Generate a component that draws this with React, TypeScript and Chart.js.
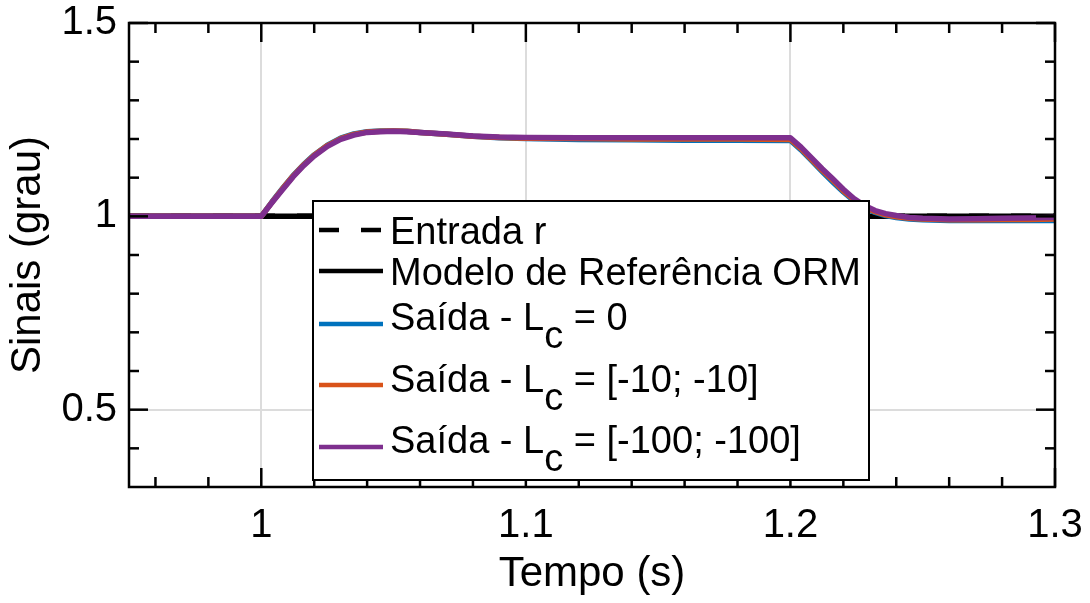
import React, { useEffect, useRef } from "react";
import { Chart, registerables } from "chart.js";

Chart.register(...registerables);

const FONT = "'Liberation Sans', Arial, Helvetica, sans-serif";

// ---- data ----
const timeOut = [
  0.95, 1.0, 1.004, 1.008, 1.012, 1.016, 1.02, 1.025, 1.03, 1.035, 1.04, 1.045, 1.05, 1.055, 1.06,
  1.07, 1.08, 1.09, 1.1, 1.12, 1.14, 1.16, 1.18, 1.2, 1.204, 1.208, 1.212, 1.216, 1.22, 1.224,
  1.228, 1.232, 1.236, 1.24, 1.245, 1.25, 1.26, 1.27, 1.28, 1.29, 1.3,
];
const outLc0 = [
  1.0, 1.0, 1.037, 1.072, 1.105, 1.134, 1.159, 1.184, 1.202, 1.213, 1.219, 1.221, 1.221, 1.22, 1.217,
  1.212, 1.207, 1.203, 1.201, 1.199, 1.198, 1.197, 1.197, 1.196, 1.172, 1.144, 1.116, 1.089, 1.063, 1.04,
  1.022, 1.01, 1.002, 0.997, 0.993, 0.991, 0.989, 0.989, 0.989, 0.989, 0.989,
];
const outLc10 = [
  1.0, 1.0, 1.036, 1.071, 1.104, 1.133, 1.158, 1.183, 1.201, 1.212, 1.218, 1.22, 1.221, 1.22, 1.217,
  1.212, 1.207, 1.204, 1.202, 1.201, 1.2, 1.2, 1.2, 1.199, 1.175, 1.147, 1.119, 1.093, 1.066, 1.043,
  1.025, 1.012, 1.004, 0.999, 0.995, 0.993, 0.991, 0.991, 0.992, 0.992, 0.993,
];
const outLc100 = [
  1.0, 1.0, 1.035, 1.069, 1.102, 1.131, 1.156, 1.181, 1.199, 1.21, 1.217, 1.219, 1.22, 1.219, 1.217,
  1.213, 1.208, 1.205, 1.204, 1.203, 1.203, 1.203, 1.203, 1.203, 1.179, 1.151, 1.123, 1.097, 1.07, 1.046,
  1.028, 1.015, 1.007, 1.002, 0.997, 0.995, 0.993, 0.994, 0.995, 0.996, 0.997,
];
const timeRef = [0.95, 1.3];
const entradaR = [1, 1];
const modeloORM = [1, 1];

const xMajorTicks = [1, 1.1, 1.2, 1.3];
const xTickLabels = ["1", "1.1", "1.2", "1.3"];
const xMinorTicks = [0.96, 0.98, 1.02, 1.04, 1.06, 1.08, 1.12, 1.14, 1.16, 1.18, 1.22, 1.24, 1.26, 1.28];
const yMajorTicks = [0.5, 1, 1.5];
const yTickLabels = ["0.5", "1", "1.5"];
const yMinorTicks = [0.4, 0.6, 0.7, 0.8, 0.9, 1.1, 1.2, 1.3, 1.4];

const xTitle = "Tempo (s)";
const yTitle = "Sinais (grau)";

const legendEntries = [
  { pre: "Entrada r", sub: "", post: "" },
  { pre: "Modelo de Referência ORM", sub: "", post: "" },
  { pre: "Saída - L", sub: "c", post: " = 0" },
  { pre: "Saída - L", sub: "c", post: " = [-10; -10]" },
  { pre: "Saída - L", sub: "c", post: " = [-100; -100]" },
];

const BLUE = "#0072BD";
const RED = "#D95319";
const PURPLE = "#7E2F8E";

const pts = (xs: number[], ys: number[]) => xs.map((x, i) => ({ x, y: ys[i] }));

const frameTicksPlugin = {
  id: "frameTicks",
  afterDatasetsDraw(chart: any) {
    const { ctx, chartArea: a, scales } = chart;
    const xs = scales.x;
    const ys = scales.y;
    ctx.save();
    ctx.strokeStyle = "#000";
    ctx.lineWidth = 2.5;
    ctx.lineCap = "butt";
    const seg = (x1: number, y1: number, x2: number, y2: number) => {
      ctx.beginPath();
      ctx.moveTo(x1, y1);
      ctx.lineTo(x2, y2);
      ctx.stroke();
    };
    const xt = (v: number, len: number) => {
      const p = xs.getPixelForValue(v);
      seg(p, a.bottom, p, a.bottom - len);
      seg(p, a.top, p, a.top + len);
    };
    const yt = (v: number, len: number) => {
      const p = ys.getPixelForValue(v);
      seg(a.left, p, a.left + len, p);
      seg(a.right, p, a.right - len, p);
    };
    xMajorTicks.forEach((v) => xt(v, 19));
    xMinorTicks.forEach((v) => xt(v, 10));
    yMajorTicks.forEach((v) => yt(v, 19));
    yMinorTicks.forEach((v) => yt(v, 10));
    ctx.strokeRect(a.left, a.top, a.right - a.left, a.bottom - a.top);
    ctx.restore();
  },
};

const legendPlugin = {
  id: "customLegend",
  afterDraw(chart: any) {
    const { ctx } = chart;
    const box = { x: 313, y: 201, w: 556, h: 279 };
    const lineX1 = 319;
    const lineX2 = 383;
    const textX = 390;
    const lineYs = [230, 271, 324, 385, 447];
    const baseYs = [244, 285, 330, 392, 453];
    const styles = [
      { color: "#000", dash: [20, 22] },
      { color: "#000", dash: [] as number[] },
      { color: BLUE, dash: [] as number[] },
      { color: RED, dash: [] as number[] },
      { color: PURPLE, dash: [] as number[] },
    ];
    ctx.save();
    ctx.fillStyle = "#fff";
    ctx.fillRect(box.x, box.y, box.w, box.h);
    ctx.strokeStyle = "#000";
    ctx.lineWidth = 2;
    ctx.strokeRect(box.x, box.y, box.w, box.h);
    ctx.font = `38px ${FONT}`;
    ctx.textBaseline = "alphabetic";
    ctx.textAlign = "left";
    legendEntries.forEach((e, i) => {
      const st = styles[i];
      ctx.beginPath();
      ctx.setLineDash(st.dash);
      ctx.strokeStyle = st.color;
      ctx.lineWidth = 4.5;
      ctx.lineCap = "butt";
      ctx.moveTo(lineX1, lineYs[i]);
      ctx.lineTo(lineX2, lineYs[i]);
      ctx.stroke();
      ctx.setLineDash([]);
      ctx.fillStyle = "#000";
      let x = textX;
      ctx.fillText(e.pre, x, baseYs[i]);
      x += ctx.measureText(e.pre).width;
      if (e.sub) {
        ctx.fillText(e.sub, x, baseYs[i] + 18);
        x += ctx.measureText(e.sub).width;
      }
      if (e.post) ctx.fillText(e.post, x, baseYs[i]);
    });
    ctx.restore();
  },
};

export default function App() {
  const ref = useRef<HTMLCanvasElement | null>(null);
  useEffect(() => {
    document.body.style.margin = "0";
    if (!ref.current) return;
    const lw = 5.5;
    const chart = new Chart(ref.current, {
      type: "line",
      data: {
        datasets: [
          { label: "Entrada r", data: pts(timeRef, entradaR), borderColor: "#000", borderDash: [20, 22], borderWidth: lw, pointRadius: 0, order: 4 },
          { label: "Modelo de Referência ORM", data: pts(timeRef, modeloORM), borderColor: "#000", borderWidth: lw, pointRadius: 0, order: 3 },
          { label: "Saída - Lc = 0", data: pts(timeOut, outLc0), borderColor: BLUE, borderWidth: lw, pointRadius: 0, order: 2 },
          { label: "Saída - Lc = [-10; -10]", data: pts(timeOut, outLc10), borderColor: RED, borderWidth: lw, pointRadius: 0, order: 1 },
          { label: "Saída - Lc = [-100; -100]", data: pts(timeOut, outLc100), borderColor: PURPLE, borderWidth: lw, pointRadius: 0, order: 0 },
        ],
      },
      options: {
        animation: false,
        responsive: false,
        devicePixelRatio: 1,
        layout: { padding: { left: 0, right: 35, top: 23, bottom: 0 } },
        plugins: { legend: { display: false }, tooltip: { enabled: false } },
        elements: { line: { tension: 0, borderCapStyle: "butt", borderJoinStyle: "round" } },
        scales: {
          x: {
            type: "linear",
            min: 0.95,
            max: 1.3,
            afterBuildTicks: (s: any) => {
              s.ticks = xMajorTicks.map((v) => ({ value: v }));
            },
            afterFit: (s: any) => {
              s.height = 116;
              s.paddingLeft = 0;
              s.paddingRight = 0;
            },
            grid: { color: "#dcdcdc", lineWidth: 2, drawTicks: false },
            border: { display: false },
            ticks: {
              autoSkip: false,
              maxRotation: 0,
              padding: 19,
              color: "#000",
              font: { family: FONT, size: 40, lineHeight: 1 },
              callback: (v: any) => xTickLabels[xMajorTicks.indexOf(Number(v))] ?? "",
            },
            title: {
              display: true,
              text: xTitle,
              color: "#000",
              font: { family: FONT, size: 42, lineHeight: 1.2 },
              padding: { top: 0, bottom: 3 },
            },
          },
          y: {
            type: "linear",
            min: 0.3,
            max: 1.5,
            afterBuildTicks: (s: any) => {
              s.ticks = yMajorTicks.map((v) => ({ value: v }));
            },
            afterFit: (s: any) => {
              s.width = 129;
              s.paddingTop = 0;
              s.paddingBottom = 0;
            },
            grid: { color: "#dcdcdc", lineWidth: 2, drawTicks: false },
            border: { display: false },
            ticks: {
              autoSkip: false,
              padding: 12,
              color: "#000",
              font: { family: FONT, size: 40, lineHeight: 1 },
              callback: (v: any) => yTickLabels[yMajorTicks.indexOf(Number(v))] ?? "",
            },
            title: {
              display: true,
              text: yTitle,
              color: "#000",
              font: { family: FONT, size: 42, lineHeight: 1.2 },
              padding: { top: 3, bottom: 0 },
            },
          },
        },
      },
      plugins: [frameTicksPlugin, legendPlugin],
    } as any);
    return () => chart.destroy();
  }, []);
  return (
    <div style={{ position: "absolute", left: 0, top: 0, width: 1090, height: 603, background: "#fff" }}>
      <canvas ref={ref} width={1090} height={603} />
    </div>
  );
}
